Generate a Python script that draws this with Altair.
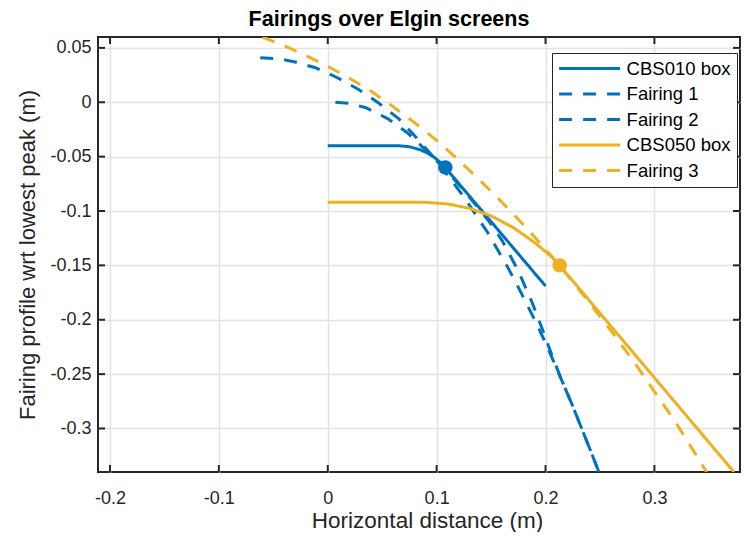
import altair as alt
import pandas as pd

# ---------------- data ----------------
series_names = ["CBS010 box", "Fairing 1", "Fairing 2", "CBS050 box", "Fairing 3"]
series_colors = ["#0072BD", "#0072BD", "#0072BD", "#EDB120", "#EDB120"]
series_dashes = [[1, 0], [13, 11], [13, 11], [1, 0], [13, 11]]

cbs010_x = [0.000, 0.065, 0.075, 0.085, 0.092, 0.098, 0.104, 0.108, 0.200]
cbs010_y = [-0.040, -0.040, -0.0409, -0.0437, -0.0469, -0.0508, -0.0558, -0.0601, -0.169]

fairing1_x = [-0.062, -0.045, -0.030, -0.012, 0.008, 0.028, 0.047, 0.065, 0.080, 0.095,
              0.110, 0.125, 0.147, 0.166, 0.178, 0.188, 0.198, 0.206, 0.215, 0.224,
              0.232, 0.240, 0.249]
fairing1_y = [0.041, 0.040, 0.037, 0.032, 0.023, 0.012, -0.001, -0.015, -0.031, -0.048,
              -0.067, -0.087, -0.120, -0.153, -0.176, -0.196, -0.217, -0.235, -0.256, -0.277,
              -0.297, -0.317, -0.340]

fairing2_x = [0.007, 0.020, 0.035, 0.055, 0.073, 0.089, 0.108, 0.125, 0.147, 0.160,
              0.175, 0.188, 0.198, 0.206, 0.215, 0.224, 0.232, 0.240, 0.249]
fairing2_y = [0.000, -0.001, -0.005, -0.015, -0.028, -0.043, -0.062, -0.081, -0.108, -0.127,
              -0.155, -0.185, -0.211, -0.233, -0.256, -0.277, -0.297, -0.317, -0.340]

cbs050_x = [0.000, 0.089, 0.110, 0.130, 0.150, 0.170, 0.190, 0.205, 0.213, 0.373]
cbs050_y = [-0.092, -0.092, -0.0935, -0.0975, -0.1045, -0.1150, -0.1290, -0.1415, -0.150, -0.340]

fairing3_x = [-0.060, -0.040, -0.020, 0.000, 0.020, 0.040, 0.060, 0.080, 0.100, 0.120,
              0.140, 0.160, 0.180, 0.200, 0.220, 0.240, 0.260, 0.280, 0.300, 0.320, 0.348]
fairing3_y = [0.060, 0.052, 0.043, 0.033, 0.022, 0.010, -0.004, -0.019, -0.035, -0.053,
              -0.072, -0.092, -0.113, -0.135, -0.159, -0.184, -0.210, -0.237, -0.266, -0.295, -0.340]

marker_x = [0.108, 0.213]
marker_y = [-0.060, -0.150]
marker_colors = ["#0072BD", "#EDB120"]

x_ticks = [-0.2, -0.1, 0, 0.1, 0.2, 0.3]
y_ticks = [0.05, 0, -0.05, -0.1, -0.15, -0.2, -0.25, -0.3]
x_domain = [-0.211, 0.3786]
y_domain = [-0.34, 0.06]

# ---------------- tables ----------------
rows = []
for name, xs_, ys_ in [
    ("CBS010 box", cbs010_x, cbs010_y),
    ("Fairing 1", fairing1_x, fairing1_y),
    ("Fairing 2", fairing2_x, fairing2_y),
    ("CBS050 box", cbs050_x, cbs050_y),
    ("Fairing 3", fairing3_x, fairing3_y),
]:
    for i, (a, b) in enumerate(zip(xs_, ys_)):
        rows.append({"series": name, "x": a, "y": b, "i": i})
lines_df = pd.DataFrame(rows)
markers_df = pd.DataFrame({"x": marker_x, "y": marker_y, "c": marker_colors})
xt_df = pd.DataFrame({"v": x_ticks})
yt_df = pd.DataFrame({"v": y_ticks})

W, H = 642, 435
AXC = "#262626"
FONT = "Liberation Sans"
label_expr = "replace(format(datum.value, '~g'), '\u2212', '-')"

xscale = alt.Scale(domain=x_domain, nice=False, zero=False)
yscale = alt.Scale(domain=y_domain, nice=False, zero=False)

x_axis = alt.Axis(values=x_ticks, labelExpr=label_expr, grid=True, ticks=False, domain=False,
                  labelPadding=17, labelFontSize=18, labelColor=AXC, labelFont=FONT,
                  title="Horizontal distance (m)", titleFontSize=22.5, titleFontWeight="normal",
                  titleColor=AXC, titleFont=FONT, titleX=329, titleY=48.5,
                  titleAlign="center", titleBaseline="middle")
y_axis = alt.Axis(values=y_ticks, labelExpr=label_expr, grid=True, ticks=False, domain=False,
                  labelPadding=7, labelFontSize=18, labelColor=AXC, labelFont=FONT,
                  title="Fairing profile wrt lowest peak (m)", titleFontSize=22,
                  titleFontWeight="normal", titleColor=AXC, titleFont=FONT,
                  titleX=-71, titleY=H / 2, titleAngle=270, titleAlign="center",
                  titleBaseline="middle")

X = alt.X("x:Q", scale=xscale, axis=x_axis)
Y = alt.Y("y:Q", scale=yscale, axis=y_axis)

legend = alt.Legend(orient="none", legendX=454, legendY=16, title=None,
                    symbolType="stroke", symbolSize=3721, symbolStrokeWidth=3,
                    clipHeight=20, rowPadding=5.5,
                    labelFontSize=18.5, labelFont=FONT, labelColor="black", labelOffset=5,
                    strokeColor=AXC, fillColor="white", padding=5.6,
                    cornerRadius=0)

lines = alt.Chart(lines_df).mark_line(strokeWidth=3, clip=True).encode(
    x=X, y=Y,
    color=alt.Color("series:N", scale=alt.Scale(domain=series_names, range=series_colors),
                    legend=legend),
    strokeDash=alt.StrokeDash("series:N", scale=alt.Scale(domain=series_names, range=series_dashes),
                              legend=legend),
    order="i:Q",
)

markers = alt.Chart(markers_df).mark_circle(size=210, opacity=1).encode(
    x=X, y=Y, color=alt.Color("c:N", scale=None)
)

Xv = alt.X("v:Q", scale=xscale, axis=x_axis)
Yv = alt.Y("v:Q", scale=yscale, axis=y_axis)
tick_style = dict(color=AXC, strokeWidth=2)
xt_bottom = alt.Chart(xt_df).mark_rule(**tick_style).encode(x=Xv, y=alt.value(H), y2=alt.value(H - 7))
xt_top = alt.Chart(xt_df).mark_rule(**tick_style).encode(x=Xv, y=alt.value(0), y2=alt.value(7))
yt_left = alt.Chart(yt_df).mark_rule(**tick_style).encode(y=Yv, x=alt.value(0), x2=alt.value(7))
yt_right = alt.Chart(yt_df).mark_rule(**tick_style).encode(y=Yv, x=alt.value(W - 7), x2=alt.value(W))

chart = alt.layer(xt_bottom, xt_top, yt_left, yt_right, lines, markers).properties(
    width=W, height=H,
    autosize=alt.AutoSizeParams(type="none"),
    padding={"left": 90, "top": 29, "right": 2, "bottom": 60},
    title=alt.TitleParams("Fairings over Elgin screens", fontSize=21.5, fontWeight="bold",
                          color="black", font=FONT, anchor="middle", dx=-30, offset=6),
).configure_view(stroke=AXC, strokeWidth=2).configure_axis(
    gridColor="#e3e3e3", gridWidth=1.5
)

chart.save("out.html", embed_options={"renderer": "svg", "actions": False})
